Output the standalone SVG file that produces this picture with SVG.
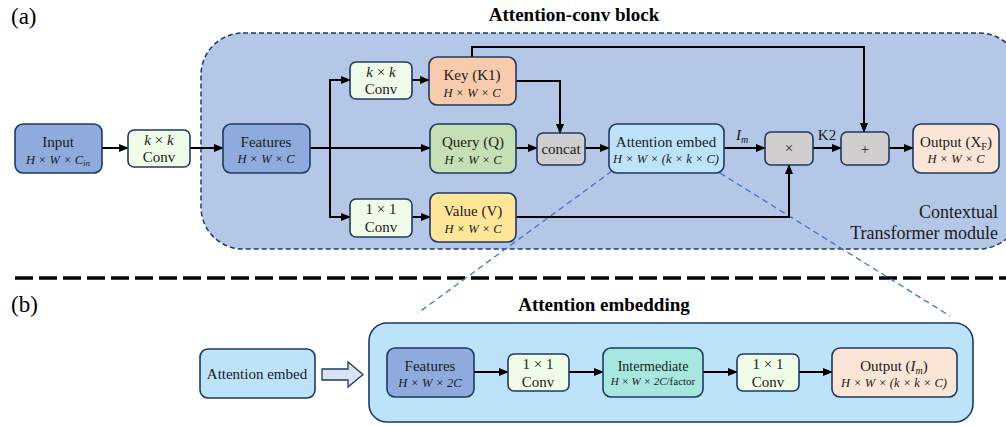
<svg xmlns="http://www.w3.org/2000/svg" width="1006" height="426" viewBox="0 0 1006 426">
<style>
.t{font-family:"Liberation Serif",serif;font-size:15px;fill:#1a1a1a;text-anchor:middle}
.d{font-family:"Liberation Serif",serif;font-size:12.5px;font-style:italic;fill:#1a1a1a;text-anchor:middle}
.n{font-style:normal}
.i{font-style:italic}
.b{font-family:"Liberation Serif",serif;font-size:19px;font-weight:bold;fill:#000;text-anchor:middle}
.lab{font-family:"Liberation Serif",serif;font-size:23px;fill:#000}
.box{stroke:#1f3864;stroke-width:1.6}
.c{fill:none;stroke:#000;stroke-width:2}
</style>
<defs>
<marker id="ah" markerWidth="10" markerHeight="8" refX="9" refY="4" orient="auto" markerUnits="userSpaceOnUse">
<path d="M0,0 L10,4 L0,8 Z" fill="#000"/>
</marker>
</defs>
<rect width="1006" height="426" fill="#fff"/>
<text class="lab" x="11" y="24">(a)</text>
<text class="lab" x="11" y="312">(b)</text>
<text class="b" x="574" y="21">Attention-conv block</text>
<text class="b" x="604" y="311">Attention embedding</text>
<g id="ctm">
<rect x="201" y="33" width="820" height="216" rx="42" fill="#b4c7e7" stroke="#1f3864" stroke-width="1.5" stroke-dasharray="5,3"/>
<text class="t" x="998" y="218" style="text-anchor:end;font-size:18px">Contextual</text>
<text class="t" x="998" y="239" style="text-anchor:end;font-size:18px">Transformer module</text>
</g>
<line x1="15" y1="278" x2="1006" y2="278" stroke="#000" stroke-width="3.5" stroke-dasharray="18,6"/>
<g id="zoomlines" stroke="#4472c4" stroke-width="1.3" stroke-dasharray="6,4">
<line x1="612" y1="171" x2="418" y2="313"/>
<line x1="720" y1="173" x2="950" y2="316"/>
</g>
<g id="embblock">
<rect x="369" y="323" width="604" height="99" rx="18" fill="#bde3fa" class="box"/>
</g>
<g id="connectors">
<line class="c" x1="102" y1="148" x2="128" y2="148" marker-end="url(#ah)"/>
<line class="c" x1="190" y1="148" x2="223" y2="148" marker-end="url(#ah)"/>
<line class="c" x1="310" y1="148" x2="430" y2="148" marker-end="url(#ah)"/>
<line class="c" x1="330" y1="80" x2="330" y2="217"/>
<line class="c" x1="329" y1="80" x2="350" y2="80" marker-end="url(#ah)"/>
<line class="c" x1="329" y1="217" x2="350" y2="217" marker-end="url(#ah)"/>
<line class="c" x1="412" y1="80" x2="429" y2="80" marker-end="url(#ah)"/>
<line class="c" x1="412" y1="217" x2="430" y2="217" marker-end="url(#ah)"/>
<polyline class="c" points="516,81 560,81 560,133" marker-end="url(#ah)"/>
<polyline class="c" points="472,57 472,47 864,47 864,132" marker-end="url(#ah)"/>
<line class="c" x1="516" y1="148" x2="537" y2="148" marker-end="url(#ah)"/>
<line class="c" x1="585" y1="148" x2="609" y2="148" marker-end="url(#ah)"/>
<line class="c" x1="724" y1="148" x2="765" y2="148" marker-end="url(#ah)"/>
<line class="c" x1="813" y1="148" x2="841" y2="148" marker-end="url(#ah)"/>
<line class="c" x1="889" y1="148" x2="913" y2="148" marker-end="url(#ah)"/>
<polyline class="c" points="516,217 789,217 789,165" marker-end="url(#ah)"/>
<line class="c" x1="474" y1="372" x2="508" y2="372" marker-end="url(#ah)"/>
<line class="c" x1="569" y1="372" x2="603" y2="372" marker-end="url(#ah)"/>
<line class="c" x1="703" y1="372" x2="737" y2="372" marker-end="url(#ah)"/>
<line class="c" x1="799" y1="372" x2="832" y2="372" marker-end="url(#ah)"/>
<path d="M322,369 L348,369 L348,362 L363,374.5 L348,387 L348,380 L322,380 Z" fill="#dae3f3" stroke="#1f3864" stroke-width="1.3"/>
<text class="t" x="742" y="140"><tspan class="i">I</tspan><tspan class="i" font-size="10" dy="3">m</tspan></text>
<text class="t" x="827" y="140">K2</text>
</g>
<g id="input">
<rect x="15" y="124" width="87" height="49" rx="8" fill="#8faadc" class="box"/>
<text class="t" x="58" y="147">Input</text>
<text class="d" x="58" y="164">H × W × C<tspan font-size="9" dy="2">in</tspan></text>
</g>
<g id="conv0">
<rect x="128" y="130" width="62" height="37" rx="6" fill="#effde8" class="box"/>
<text class="t" x="159" y="145"><tspan class="i">k</tspan> × <tspan class="i">k</tspan></text>
<text class="t" x="159" y="162">Conv</text>
</g>
<g id="features">
<rect x="223" y="124" width="87" height="49" rx="8" fill="#8faadc" class="box"/>
<text class="t" x="266" y="147">Features</text>
<text class="d" x="266" y="163">H × W × C</text>
</g>
<g id="convk">
<rect x="350" y="62" width="62" height="37" rx="6" fill="#effde8" class="box"/>
<text class="t" x="381" y="77"><tspan class="i">k</tspan> × <tspan class="i">k</tspan></text>
<text class="t" x="381" y="94">Conv</text>
</g>
<g id="conv1">
<rect x="350" y="199" width="62" height="38" rx="6" fill="#effde8" class="box"/>
<text class="t" x="381" y="214">1 × 1</text>
<text class="t" x="381" y="232">Conv</text>
</g>
<g id="key">
<rect x="429" y="57" width="87" height="48" rx="8" fill="#f8cbad" class="box"/>
<text class="t" x="472" y="80">Key (K1)</text>
<text class="d" x="472" y="97">H × W × C</text>
</g>
<g id="query">
<rect x="430" y="124" width="86" height="49" rx="8" fill="#c5e0b4" class="box"/>
<text class="t" x="473" y="147">Query (Q)</text>
<text class="d" x="473" y="164">H × W × C</text>
</g>
<g id="value">
<rect x="430" y="193" width="86" height="49" rx="8" fill="#ffe699" class="box"/>
<text class="t" x="473" y="216">Value (V)</text>
<text class="d" x="473" y="233">H × W × C</text>
</g>
<g id="concat">
<rect x="537" y="133" width="48" height="32" rx="6" fill="#d0cece" class="box"/>
<text class="t" x="561" y="154">concat</text>
</g>
<g id="attn">
<rect x="609" y="124" width="115" height="49" rx="8" fill="#bde3fa" class="box"/>
<text class="t" x="666" y="147">Attention embed</text>
<text class="d" x="666" y="163">H × W × (k × k × C)</text>
</g>
<g id="mul">
<rect x="765" y="132" width="48" height="33" rx="6" fill="#d0cece" class="box"/>
<text class="t" x="789" y="153">×</text>
</g>
<g id="add">
<rect x="841" y="132" width="48" height="33" rx="6" fill="#d0cece" class="box"/>
<text class="t" x="865" y="154">+</text>
</g>
<g id="output">
<rect x="913" y="124" width="86" height="49" rx="8" fill="#fbe5d6" class="box"/>
<text class="t" x="956" y="147">Output (X<tspan font-size="10" dy="3">F</tspan><tspan dy="-3">)</tspan></text>
<text class="d" x="956" y="163">H × W × C</text>
</g>
<g id="attn_b">
<rect x="200" y="349" width="115" height="49" rx="8" fill="#bde3fa" class="box"/>
<text class="t" x="257" y="379">Attention embed</text>
</g>
<g id="features_b">
<rect x="387" y="348" width="87" height="49" rx="8" fill="#8faadc" class="box"/>
<text class="t" x="430" y="371">Features</text>
<text class="d" x="430" y="387">H × W × 2C</text>
</g>
<g id="conv1_b">
<rect x="508" y="354" width="61" height="37" rx="6" fill="#effde8" class="box"/>
<text class="t" x="538" y="369">1 × 1</text>
<text class="t" x="538" y="387">Conv</text>
</g>
<g id="inter_b">
<rect x="603" y="348" width="100" height="49" rx="8" fill="#a6e8e0" class="box"/>
<text class="t" x="653" y="371" style="font-size:14px">Intermediate</text>
<text class="d" x="653" y="385" style="font-size:11px">H × W × 2C<tspan class="n">/factor</tspan></text>
</g>
<g id="conv2_b">
<rect x="737" y="354" width="62" height="37" rx="6" fill="#effde8" class="box"/>
<text class="t" x="768" y="369">1 × 1</text>
<text class="t" x="768" y="387">Conv</text>
</g>
<g id="output_b">
<rect x="832" y="348" width="125" height="49" rx="8" fill="#fbe5d6" class="box"/>
<text class="t" x="894" y="371">Output (<tspan class="i">I</tspan><tspan class="i" font-size="10" dy="3">m</tspan><tspan dy="-3">)</tspan></text>
<text class="d" x="894" y="387">H × W × (k × k × C)</text>
</g>
</svg>
